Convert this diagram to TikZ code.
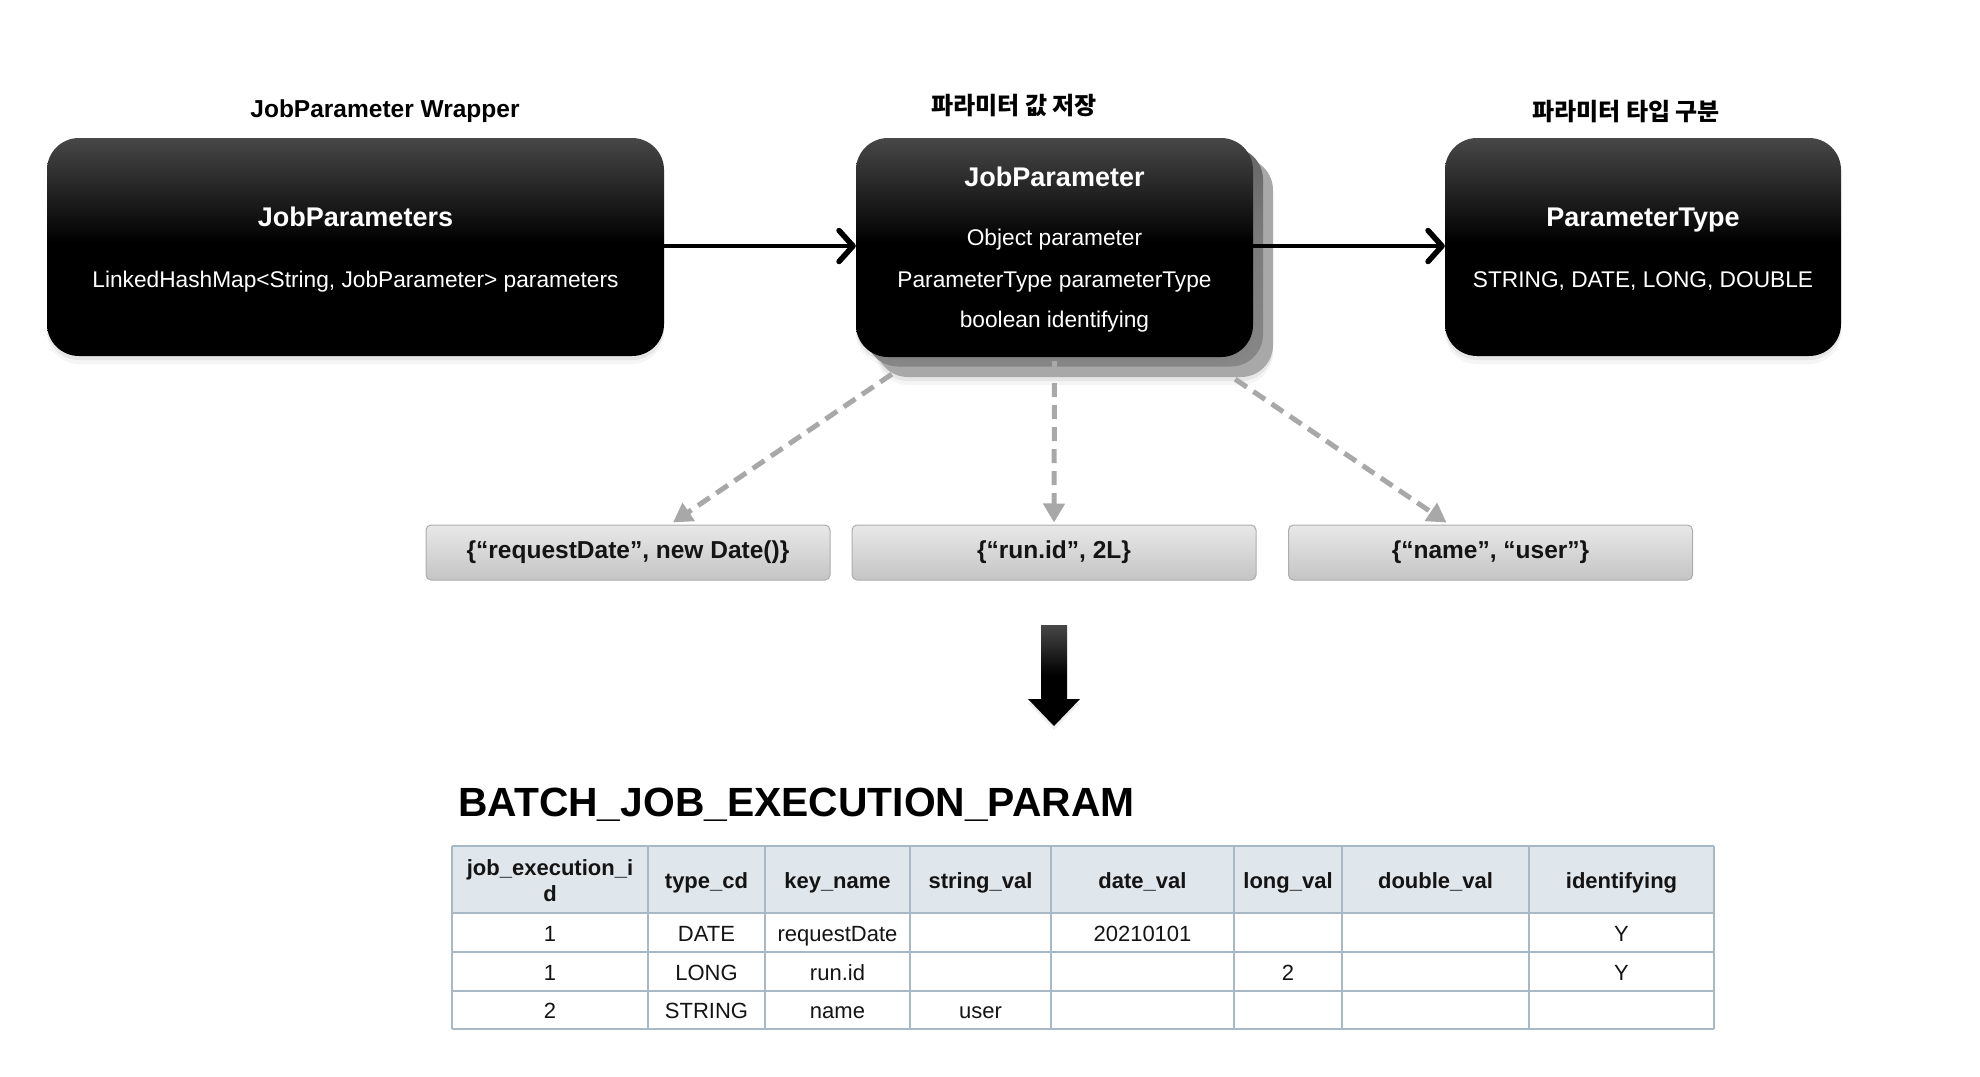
\documentclass[tikz,border=0pt]{standalone}
\usepackage{fontspec}
\setmainfont{Liberation Sans}
\newfontfamily\kr{Noto Sans CJK KR}
\usetikzlibrary{arrows.meta,shadows,calc}
\pgfdeclareverticalshading{darkbox}{100bp}{color(0bp)=(black); color(25bp)=(black); color(51bp)=(black); color(75bp)=(black!72); color(100bp)=(black!72)}
\pgfdeclareverticalshading{midlayer}{100bp}{color(0bp)=(black!47); color(25bp)=(black!47); color(55bp)=(black!52); color(75bp)=(black!60); color(100bp)=(black!60)}
\definecolor{hdrfill}{HTML}{DFE6EC}
\definecolor{gridc}{HTML}{A9B8C5}
\definecolor{dashc}{HTML}{A8A8A8}
\begin{document}
\begin{tikzpicture}[x=1pt,y=-1pt,
  softshadow/.style={drop shadow={shadow xshift=0pt,shadow yshift=-4pt,opacity=0.12},
                     drop shadow={shadow xshift=0pt,shadow yshift=-8pt,opacity=0.08}},
  fixh/.style={text height=#1,text depth=0pt},
  darkbox/.style={draw=none,shading=darkbox,rounded corners=32pt,inner sep=0pt,softshadow},
  boxhead/.style={text=white,font=\bfseries\fontsize{27}{31}\selectfont,fixh=19.7pt},
  boxbody/.style={text=white,font=\fontsize{22.7}{27}\selectfont,fixh=16.6pt},
  toptitle/.style={font=\bfseries\fontsize{24.5}{29}\selectfont,fixh=17.9pt},
  krtitle/.style={font=\kr\bfseries\fontsize{24}{29}\selectfont},
  valbox/.style={draw=black!32,line width=1pt,top color=black!9,bottom color=black!23,
                 rounded corners=5pt,minimum width=404pt,minimum height=55pt,inner sep=0pt,
                 font=\bfseries\fontsize{24.5}{29}\selectfont,text=black!92},
  flow/.style={line width=4.5pt,-{Straight Barb[length=14pt,width=31pt,line width=5.5pt,round]}},
  dasharrow/.style={draw=dashc,line width=5pt,dash pattern=on 14pt off 8pt,
                    -{Triangle[length=19pt,width=21pt]}},
  cellt/.style={font=\fontsize{22}{27}\selectfont,text=black!92,inner sep=0pt,fixh=16pt},
  headt/.style={font=\bfseries\fontsize{22}{27}\selectfont,text=black!92,inner sep=0pt,fixh=16pt}
]
\useasboundingbox[fill=white] (0,0) rectangle (1980,1076);

% ---- titles
\node[toptitle] (t1) at (385,109) {JobParameter Wrapper};
\node[krtitle] (t2) at (1014,106) {파라미터 값 저장};
\node[krtitle] (t3) at (1626,112) {파라미터 타입 구분};

% ---- dark boxes
\node[darkbox,minimum width=617pt,minimum height=218pt] (jps) at (355.5,247) {};
\node[boxhead] (jpsh) at (355.5,217) {JobParameters};
\node[boxbody] (jpsb) at (355.5,279) {LinkedHashMap<String, JobParameter> parameters};

\node[fill=black!34,rounded corners=32pt,inner sep=0pt,minimum width=397pt,minimum height=219pt,softshadow] (jpl2) at (1074.5,267.5) {};
\node[shading=midlayer,rounded corners=32pt,inner sep=0pt,minimum width=397pt,minimum height=219pt] (jpl1) at (1064.5,257) {};
\node[darkbox,minimum width=397pt,minimum height=219pt] (jp) at (1054.5,247.5) {};
\node[boxhead] (jph) at (1054.5,177) {JobParameter};
\node[boxbody] (jpb1) at (1054.5,237) {Object parameter};
\node[boxbody] (jpb2) at (1054.5,279) {ParameterType parameterType};
\node[boxbody] (jpb3) at (1054.5,319) {boolean identifying};

\node[darkbox,minimum width=396pt,minimum height=218pt] (pt) at (1643,247) {};
\node[boxhead] (pth) at (1643,217) {ParameterType};
\node[boxbody] (ptb) at (1643,279) {STRING, DATE, LONG, DOUBLE};

% ---- flow arrows
\draw[flow] ($(jps.east)+(0,-1)$) -- ($(jp.west)+(0,-1.5)$);
\draw[flow] ($(jp.east)+(0,-1.5)$) -- ($(pt.west)+(0,-1)$);

% ---- value boxes
\node[valbox] (valA) at (628,552.5) {\{“requestDate”, new Date()\}};
\node[valbox] (valB) at (1054,552.5) {\{“run.id”, 2L\}};
\node[valbox] (valC) at (1490.5,552.5) {\{“name”, “user”\}};

\coordinate (sA) at ($(jp.south west)+(36,17)$);
\coordinate (sB) at ($(jp.south)+(0,4)$);
\coordinate (sC) at ($(jp.south east)+(-18,22)$);
\coordinate (eA) at ($(valA.north)+(45,-2)$);
\coordinate (eB) at ($(valB.north)+(0,-2)$);
\coordinate (eC) at ($(valC.north)+(-44,-2)$);
\draw[dasharrow] (sA) -- (eA);
\draw[dasharrow] (sB) -- (eB);
\draw[dasharrow] (sC) -- (eC);

% ---- big down arrow
\path[top color=black!72,bottom color=black,middle color=black,
      drop shadow={shadow xshift=0pt,shadow yshift=-4pt,opacity=0.12}]
  (1041,625) -- (1067,625) -- (1067,699) -- (1080,699) -- (1054,726) -- (1028,699) -- (1041,699) -- cycle;

% ---- table title
\node[font=\bfseries\fontsize{40.8}{46}\selectfont,anchor=west,inner sep=0pt] (tbl) at (458,805) {BATCH\_JOB\_EXECUTION\_PARAM};

% ---- table
\fill[hdrfill] (452,846) rectangle (1714,913);
\foreach \x in {452,648,765,910,1051,1234,1342,1529,1714}
  \draw[gridc,line width=1.5pt] (\x,846) -- (\x,1029);
\foreach \y in {846,913,952,991,1029}
  \draw[gridc,line width=1.5pt] (452,\y) -- (1714,\y);

\node[headt] (h1a) at (550,867) {job\_execution\_i};
\node[headt] (h1b) at (550,893) {d};
\foreach \x/\t [count=\i] in {706.5/type\_cd,837.5/key\_name,980.5/string\_val,1142.5/date\_val,1288/long\_val,1435.5/double\_val,1621.5/identifying}
  \node[headt] (h\i) at (\x,880) {\t};

\foreach \x/\t [count=\i] in {550/1,706.5/DATE,837.5/requestDate,1142.5/20210101,1621.5/Y}
  \node[cellt] (ra\i) at (\x,933) {\t};
\foreach \x/\t [count=\i] in {550/1,706.5/LONG,837.5/run.id,1288/2,1621.5/Y}
  \node[cellt] (rb\i) at (\x,972) {\t};
\foreach \x/\t [count=\i] in {550/2,706.5/STRING,837.5/name,980.5/user}
  \node[cellt] (rc\i) at (\x,1010.5) {\t};
\end{tikzpicture}
\end{document}
